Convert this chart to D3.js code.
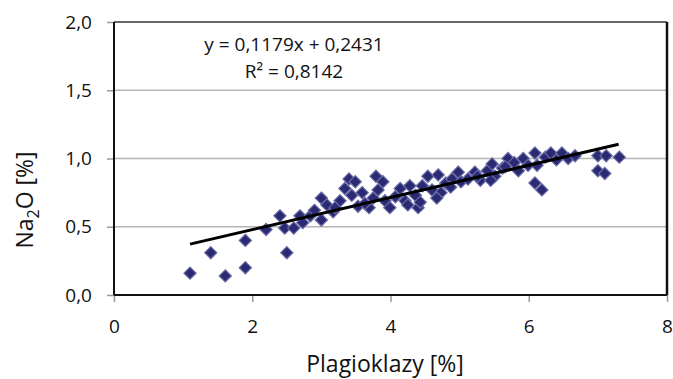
<!DOCTYPE html>
<html>
<head>
<meta charset="utf-8">
<script src="https://cdn.jsdelivr.net/npm/d3@7"></script>
<style>
  body { margin: 0; background: #fff; }
  text { font-family: "Open Sans", "Lato", sans-serif; fill: #111; }
</style>
</head>
<body>
<svg id="chart" width="673" height="379"></svg>
<script>
// plagioclase [%] vs Na2O [%]
var plagX = [1.10, 1.40, 1.61, 1.90, 1.90, 2.20, 2.40, 2.50, 2.47, 2.60, 2.69, 2.73, 2.84,
    3.00, 3.00, 3.08, 3.17, 3.27, 3.34, 3.40, 3.49, 3.44, 3.53, 3.59, 3.69, 3.75, 3.79,
    3.89, 3.82, 3.92, 3.99, 4.07, 4.14, 4.21, 4.28, 4.36, 4.40, 4.46, 4.54, 4.60, 4.69,
    4.73, 4.80, 4.89, 4.98, 5.02, 5.12, 5.22, 5.30, 5.40, 5.47, 5.51, 5.62, 5.70, 5.79,
    5.85, 5.92, 5.99, 6.09, 6.12, 6.09, 6.19, 6.24, 6.32, 6.40, 6.48, 6.57, 6.67, 7.00,
    7.00, 7.10, 7.12, 7.31, 4.25, 4.43, 4.67, 4.87, 5.26, 5.45, 5.66, 3.63, 3.20, 2.90];
var na2oY = [0.16, 0.31, 0.14, 0.40, 0.20, 0.48, 0.58, 0.31, 0.49, 0.49, 0.58, 0.53, 0.58,
    0.71, 0.55, 0.66, 0.61, 0.69, 0.78, 0.85, 0.83, 0.73, 0.65, 0.75, 0.64, 0.71, 0.87,
    0.83, 0.77, 0.69, 0.64, 0.72, 0.78, 0.69, 0.80, 0.73, 0.64, 0.80, 0.87, 0.77, 0.88,
    0.75, 0.82, 0.85, 0.90, 0.83, 0.85, 0.90, 0.84, 0.91, 0.96, 0.87, 0.93, 1.00, 0.97,
    0.91, 1.00, 0.95, 1.04, 0.95, 0.82, 0.77, 1.01, 1.04, 0.99, 1.04, 1.00, 1.02, 1.02,
    0.91, 0.89, 1.02, 1.01, 0.66, 0.68, 0.71, 0.79, 0.87, 0.84, 0.94, 0.67, 0.64, 0.62];
var xTicks = [0, 2, 4, 6, 8];
var yTicks = [0, 0.5, 1.0, 1.5, 2.0];
var slope = 0.1179, intercept = 0.2431;
var fitRange = [1.1, 7.3];

var svg = d3.select("#chart");
var fmt = function(d) { return d3.format(".1f")(d).replace(".", ","); };

var x = d3.scaleLinear().domain([0, 8]).range([114, 667]);
var y = d3.scaleLinear().domain([0, 2]).range([295, 22]);

// gridlines
svg.append("g")
    .selectAll("line")
    .data(yTicks.slice(1, 4))
    .enter()
    .append("line")
    .attr("x1", x(0)).attr("x2", x(8))
    .attr("y1", function(d) { return y(d); })
    .attr("y2", function(d) { return y(d); })
    .attr("stroke", "#b5b5b5")
    .attr("stroke-width", 1.5);

// axes
var yAxis = d3.axisLeft(y).tickValues(yTicks).tickSize(7).tickFormat(fmt);
var xAxis = d3.axisBottom(x).tickValues(xTicks).tickSize(7).tickFormat(d3.format("d"));

var gy = svg.append("g").attr("transform", "translate(" + x(0) + ",0)").call(yAxis);
var gx = svg.append("g").attr("transform", "translate(0," + y(0) + ")").call(xAxis);
[gx, gy].forEach(function(g) {
    g.select(".domain").remove();
    g.selectAll(".tick line").attr("stroke", "#999").attr("stroke-width", 1.5);
    g.selectAll(".tick text").style("font-size", "19px").attr("fill", "#111");
});
gy.selectAll(".tick text").attr("x", -22);
gx.selectAll(".tick text").attr("y", 25);

// frame
svg.append("line").attr("x1", x(0)).attr("x2", x(8)).attr("y1", y(2)).attr("y2", y(2))
    .attr("stroke", "#333").attr("stroke-width", 1.5);
svg.append("line").attr("x1", x(8)).attr("x2", x(8)).attr("y1", y(2)).attr("y2", y(0))
    .attr("stroke", "#111").attr("stroke-width", 2.5);
svg.append("line").attr("x1", x(0)).attr("x2", x(8)).attr("y1", y(0)).attr("y2", y(0))
    .attr("stroke", "#111").attr("stroke-width", 2);
svg.append("line").attr("x1", x(0)).attr("x2", x(0)).attr("y1", y(2)).attr("y2", y(0))
    .attr("stroke", "#111").attr("stroke-width", 2);

// points
var pts = plagX.map(function(v, i) { return { x: v, y: na2oY[i] }; });
var diamond = d3.symbol().type(d3.symbolDiamond2).size(95);
svg.append("g")
    .selectAll("path")
    .data(pts)
    .enter()
    .append("path")
    .attr("d", diamond)
    .attr("transform", function(d) { return "translate(" + x(d.x) + "," + y(d.y) + ")"; })
    .attr("fill", "#2a2a72")
    .attr("stroke", "#6a6aa6")
    .attr("stroke-width", 1.2);

// trendline
var line = d3.line()
    .x(function(d) { return x(d); })
    .y(function(d) { return y(slope * d + intercept); });
svg.append("path")
    .datum(fitRange)
    .attr("fill", "none")
    .attr("stroke", "#000")
    .attr("stroke-width", 3)
    .attr("d", line);

// equation
svg.append("text").attr("x", 294).attr("y", 51).attr("text-anchor", "middle")
    .style("font-size", "19px").text("y = 0,1179x + 0,2431");
svg.append("text").attr("x", 294).attr("y", 78).attr("text-anchor", "middle")
    .style("font-size", "19px").text("R² = 0,8142");

// axis titles
svg.append("text").attr("x", 385).attr("y", 372).attr("text-anchor", "middle")
    .style("font-size", "23px").text("Plagioklazy [%]");
var yt = svg.append("text")
    .attr("transform", "translate(33,200) rotate(-90)")
    .attr("text-anchor", "middle")
    .style("font-size", "23px");
yt.append("tspan").text("Na");
yt.append("tspan").attr("dy", 6).style("font-size", "16px").text("2");
yt.append("tspan").attr("dy", -6).text("O [%]");
</script>
</body>
</html>
